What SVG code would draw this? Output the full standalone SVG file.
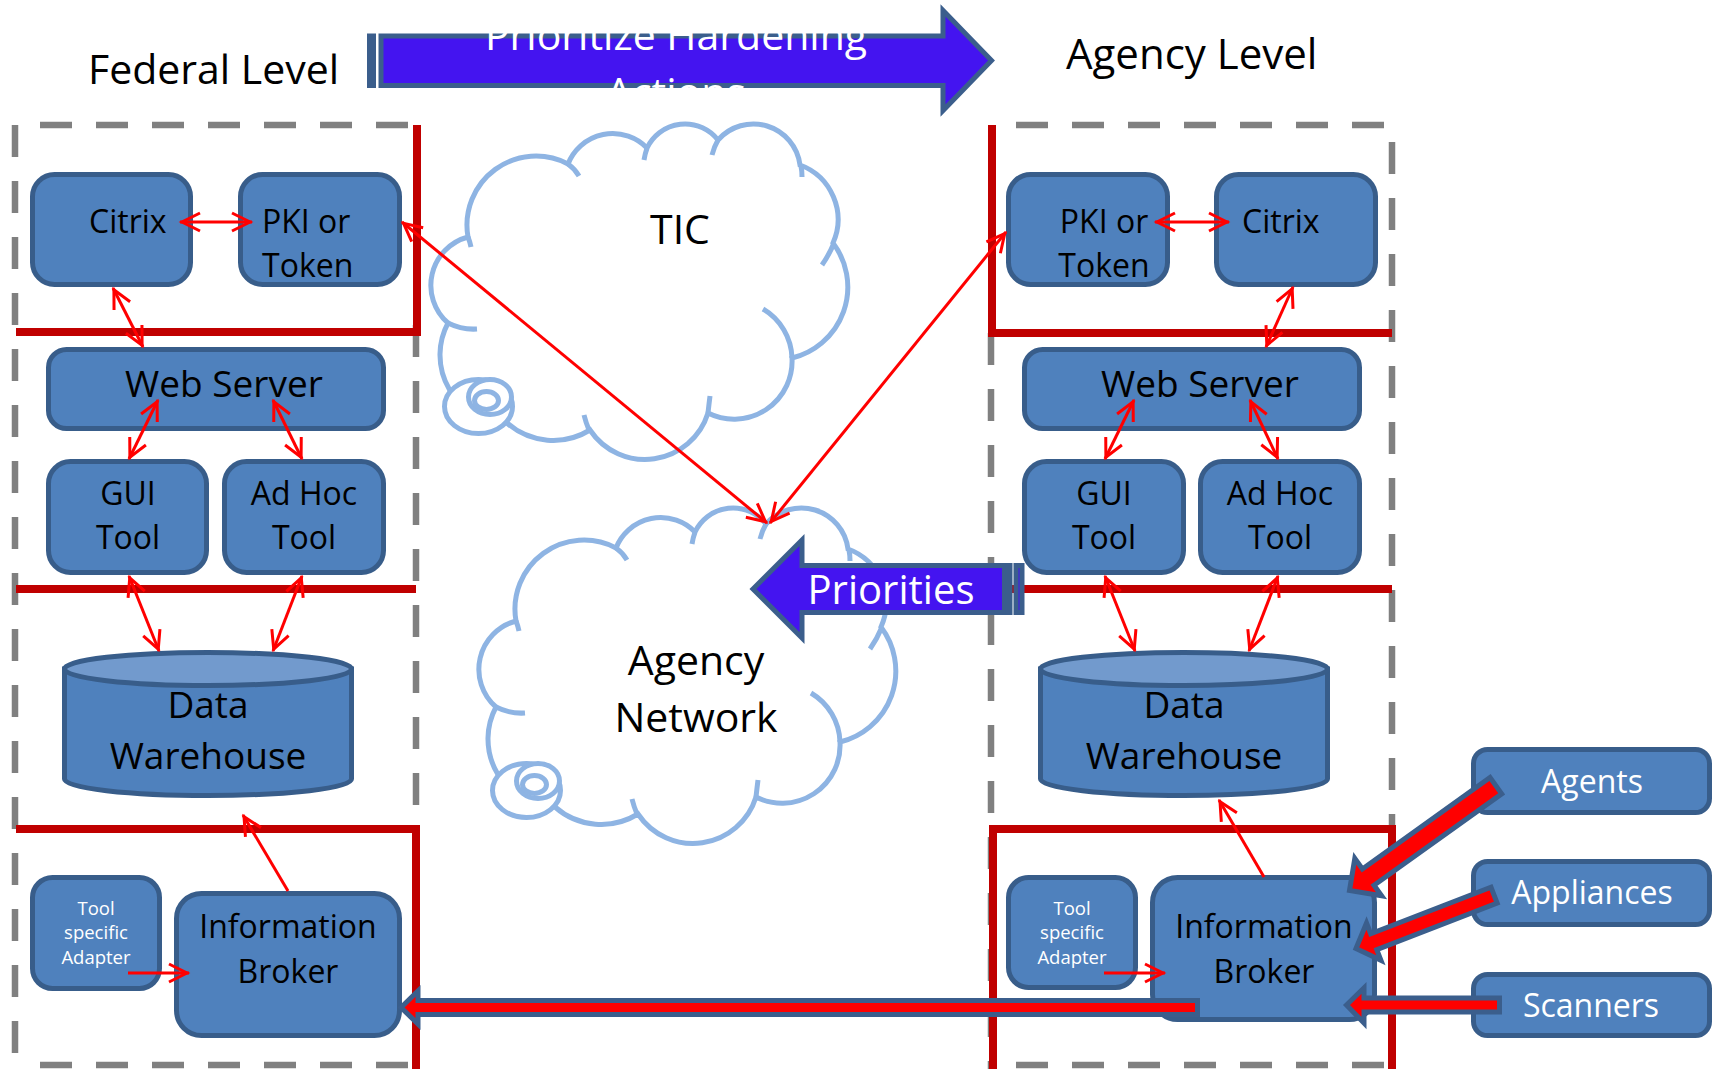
<svg xmlns="http://www.w3.org/2000/svg" xmlns:xlink="http://www.w3.org/1999/xlink" width="1718" height="1069" viewBox="0 0 1718 1069">
<defs>
<style>
.bound{stroke:#808080;stroke-width:6.5;stroke-dasharray:32 24;fill:none}
.fw{stroke:#C00000;stroke-width:8;fill:none}
.node{fill:#4F81BD;stroke:#385D8A;stroke-width:5}
.cyltop{fill:#729ACD;stroke:#385D8A;stroke-width:5}
.cloud{fill:#FFFFFF;stroke:#8EB4E3;stroke-width:5}
.cloudin{fill:none;stroke:#8EB4E3;stroke-width:5}
.con{stroke:#FF0000;stroke-width:3;fill:none}
.blk{fill:#4414F0;stroke:#3B5E8C;stroke-width:5}
.thick{fill:#FF0000;stroke:#3B5E8C;stroke-width:5}
text{font-family:"Open Sans","Liberation Sans",sans-serif}
.lbl{font-size:32px;fill:#000}
.big{font-size:37px;fill:#000}
.wl{font-size:32px;fill:#FFFFFF}
.sm{font-size:18.5px;fill:#FFFFFF}
.title{font-size:41px;fill:#000}
</style>
<marker id="ah" viewBox="0 0 24 20" refX="21" refY="10" markerWidth="24" markerHeight="20" markerUnits="userSpaceOnUse" orient="auto-start-reverse" overflow="visible">
<path d="M1,1 L19,10 L1,19" fill="none" stroke="#FF0000" stroke-width="3"/>
</marker>
<g id="cloudShape">
<path class="cloud" d="M448 323 A50 50 0 0 1 468 237 A69 69 0 0 1 568 164 A48 48 0 0 1 647 148 A42 42 0 0 1 718 140 A47 47 0 0 1 800 165 A58 58 0 0 1 833 243 A73 73 0 0 1 792 358 A58 58 0 0 1 708 413 A66 66 0 0 1 590 430 A70 70 0 0 1 507 423 A68 68 0 0 1 448 323 Z"/>
<path class="cloudin" d="M448 323 Q462 330 477 329 M468 237 Q470 242 471 247 M568 164 Q575 169 579 176 M647 148 Q645 154 644 160 M718 140 Q714 147 712 155 M801 166 Q802 171 802 177 M834 243 Q829 255 822 265 M792 358 A59 59 0 0 0 763 309 M708 413 Q709 404 710 396 M589 430 Q586 423 584 415"/>
<ellipse class="cloud" cx="478.5" cy="406.5" rx="34" ry="27"/>
<ellipse class="cloud" cx="490" cy="397" rx="21.5" ry="17.5"/>
<ellipse class="cloud" cx="486.5" cy="400.5" rx="12" ry="9"/>
</g>
</defs>

<rect width="1718" height="1069" fill="#FFFFFF"/>

<g id="boundaries">
<line class="bound" x1="40" y1="125" x2="410" y2="125"/>
<line class="bound" x1="15" y1="125" x2="15" y2="1069"/>
<line class="bound" x1="416" y1="325" x2="416" y2="1069"/>
<line class="bound" x1="40" y1="1065" x2="416" y2="1065"/>
<line class="bound" x1="1016" y1="125" x2="1392" y2="125"/>
<line class="bound" x1="1392" y1="142" x2="1392" y2="1069"/>
<line class="bound" x1="991" y1="333" x2="991" y2="1069"/>
<line class="bound" x1="1016" y1="1065" x2="1392" y2="1065"/>
</g>

<g id="firewalls">
<polyline class="fw" points="417,125 417,332 16,332"/>
<line class="fw" x1="16" y1="589" x2="416" y2="589"/>
<polyline class="fw" points="16,829 416,829 416,1069"/>
<polyline class="fw" points="992,125 992,333 1392,333"/>
<line class="fw" x1="992" y1="589" x2="1392" y2="589"/>
<polyline class="fw" points="993,1069 993,829 1392,829 1392,1069"/>
</g>

<text class="title" x="88" y="84">Federal Level</text>
<text class="title" x="1066" y="69" style="font-size:42px">Agency Level</text>

<g id="tic">
<use xlink:href="#cloudShape"/>
<text class="title" x="680" y="244" text-anchor="middle">TIC</text>
</g>
<g id="agency-network">
<use xlink:href="#cloudShape" transform="translate(48,384)"/>
<text class="title" x="696" y="675" text-anchor="middle">Agency</text>
<text class="title" x="696" y="732" text-anchor="middle">Network</text>
</g>

<g id="fed-citrix"><rect class="node" x="32.5" y="174.5" width="158" height="110" rx="22"/><text class="lbl" x="89" y="233">Citrix</text></g>
<g id="fed-pki"><rect class="node" x="240.5" y="174.5" width="159" height="110" rx="22"/><text class="lbl" x="262" y="233">PKI or</text><text class="lbl" x="262" y="277">Token</text></g>
<g id="fed-web"><rect class="node" x="48.5" y="349.5" width="335" height="79" rx="18"/><text class="big" x="224" y="397" text-anchor="middle">Web Server</text></g>
<g id="fed-gui"><rect class="node" x="48.5" y="461.5" width="158" height="111" rx="22"/><text class="lbl" x="128" y="505" text-anchor="middle">GUI</text><text class="lbl" x="128" y="549" text-anchor="middle">Tool</text></g>
<g id="fed-adhoc"><rect class="node" x="224.5" y="461.5" width="159" height="111" rx="22"/><text class="lbl" x="304" y="505" text-anchor="middle">Ad Hoc</text><text class="lbl" x="304" y="549" text-anchor="middle">Tool</text></g>
<g id="fed-dw">
<path class="node" d="M64.5 669 L64.5 779 A143.5 16.5 0 0 0 351.5 779 L351.5 669 Z"/>
<ellipse class="cyltop" cx="208" cy="669" rx="143.5" ry="16.5"/>
<text class="big" x="208" y="718" text-anchor="middle">Data</text><text class="big" x="208" y="769" text-anchor="middle">Warehouse</text>
</g>
<g id="fed-adapter"><rect class="node" x="32.5" y="877.5" width="127" height="111" rx="20"/><text class="sm" x="96" y="915" text-anchor="middle">Tool</text><text class="sm" x="96" y="939" text-anchor="middle">specific</text><text class="sm" x="96" y="964" text-anchor="middle">Adapter</text></g>
<g id="fed-broker"><rect class="node" x="176.5" y="893.5" width="223" height="142" rx="25"/><text class="lbl" x="288" y="938" text-anchor="middle">Information</text><text class="lbl" x="288" y="983" text-anchor="middle">Broker</text></g>

<g id="ag-pki"><rect class="node" x="1008.5" y="174.5" width="159" height="110" rx="22"/><text class="lbl" x="1104" y="233" text-anchor="middle">PKI or</text><text class="lbl" x="1104" y="277" text-anchor="middle">Token</text></g>
<g id="ag-citrix"><rect class="node" x="1216.5" y="174.5" width="159" height="110" rx="22"/><text class="lbl" x="1242" y="233">Citrix</text></g>
<g id="ag-web"><rect class="node" x="1024.5" y="349.5" width="335" height="79" rx="18"/><text class="big" x="1200" y="397" text-anchor="middle">Web Server</text></g>
<g id="ag-gui"><rect class="node" x="1024.5" y="461.5" width="159" height="111" rx="22"/><text class="lbl" x="1104" y="505" text-anchor="middle">GUI</text><text class="lbl" x="1104" y="549" text-anchor="middle">Tool</text></g>
<g id="ag-adhoc"><rect class="node" x="1200.5" y="461.5" width="159" height="111" rx="22"/><text class="lbl" x="1280" y="505" text-anchor="middle">Ad Hoc</text><text class="lbl" x="1280" y="549" text-anchor="middle">Tool</text></g>
<g id="ag-dw">
<path class="node" d="M1040.5 669 L1040.5 779 A143.5 16.5 0 0 0 1327.5 779 L1327.5 669 Z"/>
<ellipse class="cyltop" cx="1184" cy="669" rx="143.5" ry="16.5"/>
<text class="big" x="1184" y="718" text-anchor="middle">Data</text><text class="big" x="1184" y="769" text-anchor="middle">Warehouse</text>
</g>
<g id="ag-adapter"><rect class="node" x="1008.5" y="877.5" width="127" height="110" rx="20"/><text class="sm" x="1072" y="915" text-anchor="middle">Tool</text><text class="sm" x="1072" y="939" text-anchor="middle">specific</text><text class="sm" x="1072" y="964" text-anchor="middle">Adapter</text></g>
<g id="ag-broker"><rect class="node" x="1152.5" y="877.5" width="222" height="142" rx="25"/><text class="lbl" x="1264" y="938" text-anchor="middle">Information</text><text class="lbl" x="1264" y="983" text-anchor="middle">Broker</text></g>

<g id="agents"><rect class="node" x="1473.5" y="749.5" width="236" height="63" rx="14"/><text class="wl" x="1592" y="793" text-anchor="middle">Agents</text></g>
<g id="appliances"><rect class="node" x="1473.5" y="861.5" width="236" height="63" rx="14"/><text class="wl" x="1592" y="904" text-anchor="middle">Appliances</text></g>
<g id="scanners"><rect class="node" x="1473.5" y="974.5" width="236" height="61" rx="14"/><text class="wl" x="1591" y="1017" text-anchor="middle">Scanners</text></g>

<g id="connectors">
<line class="con" x1="180" y1="222" x2="252" y2="222" marker-start="url(#ah)" marker-end="url(#ah)"/>
<line class="con" x1="113" y1="288" x2="143" y2="347" marker-start="url(#ah)" marker-end="url(#ah)"/>
<line class="con" x1="158" y1="400" x2="129" y2="459" marker-start="url(#ah)" marker-end="url(#ah)"/>
<line class="con" x1="273" y1="400" x2="302" y2="459" marker-start="url(#ah)" marker-end="url(#ah)"/>
<line class="con" x1="129" y1="576" x2="159" y2="651" marker-start="url(#ah)" marker-end="url(#ah)"/>
<line class="con" x1="302" y1="576" x2="273" y2="651" marker-start="url(#ah)" marker-end="url(#ah)"/>
<line class="con" x1="128" y1="973" x2="189" y2="973" marker-end="url(#ah)"/>
<line class="con" x1="288" y1="891" x2="243" y2="815" marker-end="url(#ah)"/>
<line class="con" x1="1155" y1="222" x2="1229" y2="222" marker-start="url(#ah)" marker-end="url(#ah)"/>
<line class="con" x1="1293" y1="287" x2="1266" y2="347" marker-start="url(#ah)" marker-end="url(#ah)"/>
<line class="con" x1="1134" y1="400" x2="1105" y2="459" marker-start="url(#ah)" marker-end="url(#ah)"/>
<line class="con" x1="1250" y1="400" x2="1278" y2="459" marker-start="url(#ah)" marker-end="url(#ah)"/>
<line class="con" x1="1105" y1="576" x2="1135" y2="651" marker-start="url(#ah)" marker-end="url(#ah)"/>
<line class="con" x1="1278" y1="576" x2="1249" y2="651" marker-start="url(#ah)" marker-end="url(#ah)"/>
<line class="con" x1="1104" y1="973" x2="1165" y2="973" marker-end="url(#ah)"/>
<line class="con" x1="1264" y1="877" x2="1219" y2="800" marker-end="url(#ah)"/>
<line class="con" x1="402" y1="222" x2="767" y2="523" marker-start="url(#ah)" marker-end="url(#ah)"/>
<line class="con" x1="1006" y1="232" x2="770" y2="523" marker-start="url(#ah)" marker-end="url(#ah)"/>
<path class="thick" d="M401 1007.5 L418 991 L418 1000.5 L1197.5 1000.5 L1197.5 1014.5 L418 1014.5 L418 1024 Z"/>
<path class="thick" d="M1346.5 1005 L1364 988 L1364 998 L1499.5 998 L1499.5 1012 L1364 1012 L1364 1023 Z"/>
<path class="thick" transform="translate(1349.5,890.5) rotate(-35.6)" d="M0 0 L23 -23 L23 -10 L180 -10 L180 10 L23 10 L23 23 Z"/>
<path class="thick" transform="translate(1356,948.5) rotate(-21.1)" d="M0 0 L19 -20 L19 -8.5 L148 -8.5 L148 8.5 L19 8.5 L19 20 Z"/>
</g>

<g id="priorities">
<path class="blk" d="M753 589 L802 540 L802 565.5 L1004.5 565.5 L1004.5 612.5 L802 612.5 L802 638 Z"/>
<rect class="blk" x="1008" y="565.5" width="2" height="47"/>
<rect class="blk" x="1016" y="565.5" width="6" height="47"/>
<text class="wl" x="891" y="604" text-anchor="middle" style="font-size:40px">Priorities</text>
</g>

<g id="prioritize-hardening">
<path class="blk" d="M381 36 L943 36 L943 10.5 L991.5 60.5 L943 110.5 L943 85.5 L381 85.5 Z"/>
<rect class="blk" x="369.5" y="36" width="4" height="49.5"/>
<text x="676" y="50" text-anchor="middle" style="font-size:41px;fill:#FFFFFF">Prioritize Hardening</text>
<text x="676" y="107" text-anchor="middle" style="font-size:41px;fill:#FFFFFF">Actions</text>
</g>
</svg>
